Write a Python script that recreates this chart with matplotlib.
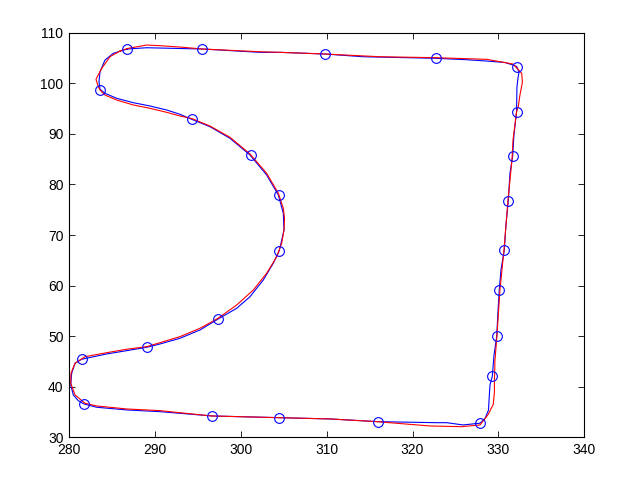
import matplotlib
matplotlib.use("Agg")
import matplotlib.pyplot as plt

# Blue trajectory (closed loop)
blue_x = [286.79, 289.05, 295.52, 302.23, 304.56, 309.80, 314.23, 322.69, 326.30, 328.63,
          330.76, 331.69, 332.12, 332.39, 332.27, 332.15, 332.10, 331.80, 331.65, 331.34,
          331.14, 330.87, 330.68, 330.29, 330.09, 329.94, 329.79, 329.48, 329.28, 329.01,
          328.90, 328.84, 328.43, 327.85, 325.87, 323.97, 322.81, 320.05, 315.94, 310.38,
          304.45, 296.61, 290.59, 286.72, 283.22, 281.75, 281.08, 280.50, 280.20, 280.31,
          280.70, 281.48, 284.39, 286.72, 289.05, 290.59, 292.92, 295.25, 297.31, 299.52,
          301.07, 302.62, 303.78, 304.48, 305.03, 304.95, 304.37, 303.01, 301.07, 298.74,
          296.41, 294.28, 292.92, 291.37, 289.43, 287.49, 285.55, 284.19, 283.61, 283.49,
          283.61, 284.19, 285.16, 286.79]
blue_y = [106.78, 107.03, 106.78, 106.12, 106.12, 105.79, 105.25, 104.94, 104.66, 104.40,
          104.11, 103.61, 103.32, 102.23, 101.04, 99.26, 94.28, 89.77, 85.56, 82.26,
          76.73, 71.98, 67.04, 63.08, 59.19, 54.78, 49.94, 46.28, 42.07, 40.34,
          37.38, 35.40, 33.72, 32.79, 32.44, 32.89, 32.89, 32.97, 33.09, 33.63,
          33.88, 34.22, 35.07, 35.41, 35.94, 36.59, 37.24, 38.37, 40.35, 42.66,
          44.64, 45.43, 46.48, 47.13, 47.80, 48.45, 49.58, 51.22, 53.34, 55.51,
          57.80, 61.11, 64.41, 66.90, 70.99, 74.29, 77.91, 81.87, 85.82, 89.12,
          91.42, 92.88, 93.87, 94.72, 95.51, 96.16, 97.03, 98.02, 98.81, 100.31,
          102.29, 104.60, 105.93, 106.78]

# Red smoothed trajectory (closed loop)
red_x = [285.94, 286.79, 289.05, 290.59, 292.92, 295.52, 302.23, 304.56, 309.80, 316.20,
         322.69, 328.63, 331.69, 332.70, 332.79, 332.50, 332.30, 332.10, 331.69, 331.57,
         331.11, 330.64, 330.17, 329.82, 329.59, 329.53, 329.53, 329.39, 328.81, 327.85,
         325.72, 322.03, 318.15, 315.94, 310.38, 304.45, 296.61, 290.59, 286.72, 283.22,
         281.86, 280.70, 280.20, 280.23, 280.70, 281.86, 284.39, 286.72, 289.05, 290.59,
         292.92, 295.25, 297.31, 299.52, 301.46, 303.01, 304.18, 304.76, 305.03, 305.09,
         304.95, 304.37, 303.01, 301.07, 298.74, 296.41, 294.28, 292.92, 291.37, 289.43,
         287.49, 285.55, 284.19, 283.61, 283.41, 283.14, 283.81, 284.77, 285.94]
red_y = [106.38, 106.88, 107.57, 107.43, 107.17, 106.78, 106.24, 106.12, 105.79, 105.25,
         105.06, 104.74, 103.81, 101.97, 100.25, 97.68, 95.37, 94.28, 88.79, 84.83,
         76.92, 67.04, 59.13, 50.03, 45.29, 41.34, 38.96, 36.52, 34.54, 32.44,
         32.10, 32.24, 32.77, 33.09, 33.63, 33.88, 34.22, 35.27, 35.60, 36.20,
         36.73, 38.37, 40.68, 42.66, 44.64, 45.94, 46.73, 47.41, 47.92, 48.71,
         49.90, 51.56, 53.49, 56.16, 59.13, 62.43, 65.71, 68.36, 70.99, 73.36,
         75.28, 78.25, 82.20, 86.02, 89.32, 91.55, 93.04, 93.53, 94.26, 95.05,
         95.71, 96.69, 97.68, 98.67, 99.32, 100.79, 102.96, 105.25, 106.38]

# Sampled points (blue circles)
mark_x = [286.79, 295.52, 309.80, 322.69, 332.12, 332.10, 331.65, 331.14, 330.68, 330.09,
          329.79, 329.28, 327.85, 315.94, 304.45, 296.61, 281.75, 281.48, 289.08, 297.29,
          304.45, 304.41, 301.13, 294.32, 283.64]
mark_y = [106.78, 106.78, 105.79, 104.94, 103.32, 94.28, 85.56, 76.73, 67.04, 59.19,
          49.94, 42.07, 32.79, 33.09, 33.88, 34.22, 36.59, 45.43, 47.86, 53.30,
          66.90, 77.91, 85.82, 92.94, 98.73]

x_ticks = [280, 290, 300, 310, 320, 330, 340]
y_ticks = [30, 40, 50, 60, 70, 80, 90, 100, 110]

plt.rcParams['font.family'] = ['Liberation Sans', 'DejaVu Sans']
fig = plt.figure(figsize=(6.24, 4.84), dpi=100)
ax = fig.add_axes([0.1106, 0.0965, 0.8259, 0.8359])

ax.plot(blue_x, blue_y, color='#0000ff', linewidth=0.8)
ax.plot(red_x, red_y, color='#ff0000', linewidth=0.8)
ax.plot(mark_x, mark_y, linestyle='none', marker='o', markersize=7,
        markerfacecolor='none', markeredgecolor='#0000ff', markeredgewidth=0.8)

ax.set_xlim(280, 340)
ax.set_ylim(30, 110)
ax.set_xticks(x_ticks)
ax.set_yticks(y_ticks)
ax.tick_params(direction='in', top=True, right=True, length=4, width=0.6,
               labelsize=10, colors='black', pad=4)
for s in ax.spines.values():
    s.set_linewidth(0.8)
    s.set_color('black')

fig.savefig('out.png', dpi=100)
